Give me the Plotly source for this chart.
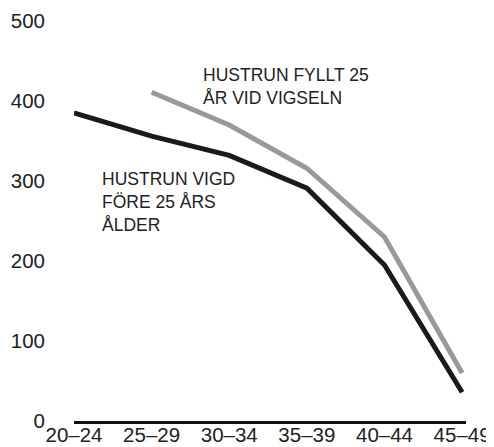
import plotly.graph_objects as go

categories = ["20–24", "25–29", "30–34", "35–39", "40–44", "45–49"]
vigd_fore_25 = [385, 356, 332, 291, 195, 36]
fyllt_25 = [None, 411, 370, 316, 230, 60]
y_ticks = [0, 100, 200, 300, 400, 500]

xi = list(range(len(categories)))

fig = go.Figure()
fig.add_trace(go.Scatter(x=xi, y=fyllt_25, mode="lines",
                         line=dict(color="#999999", width=5), hoverinfo="skip"))
fig.add_trace(go.Scatter(x=xi, y=vigd_fore_25, mode="lines",
                         line=dict(color="#1a1a1a", width=5), hoverinfo="skip"))

ann_font = dict(family="Liberation Sans, Arial, sans-serif", size=17.5, color="#222222")
fig.add_annotation(x=1.65, y=446, text="HUSTRUN FYLLT 25<br>ÅR VID VIGSELN",
                   showarrow=False, xanchor="left", yanchor="top", align="left",
                   font=ann_font, borderpad=0)
fig.add_annotation(x=0.35, y=316, text="HUSTRUN VIGD<br>FÖRE 25 ÅRS<br>ÅLDER",
                   showarrow=False, xanchor="left", yanchor="top", align="left",
                   font=ann_font, borderpad=0)

tick_font = dict(family="Liberation Sans, Arial, sans-serif", size=20.5, color="#222222")
fig.update_layout(
    width=486, height=439,
    margin=dict(l=66, r=28, t=13, b=26),
    plot_bgcolor="white", paper_bgcolor="white",
    showlegend=False,
    xaxis=dict(range=[0, 5.05], tickvals=xi, ticktext=categories,
               showgrid=False, zeroline=False, showline=True,
               linecolor="#111111", linewidth=3, ticks="",
               tickfont=tick_font, ticklabelstandoff=-7, automargin=False),
    yaxis=dict(range=[0, 500], tickvals=y_ticks, showgrid=False,
               zeroline=False, showline=False, ticks="",
               tickfont=tick_font, ticklabelstandoff=28, automargin=False),
)
fig.write_html("out.html")
